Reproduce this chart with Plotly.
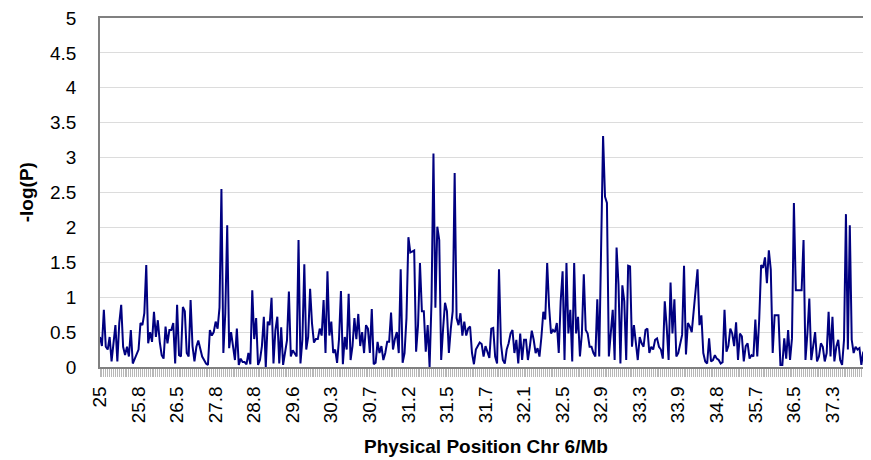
import plotly.graph_objects as go

# -log(P) values, one per marker (index order along chromosome 6)
neg_log_p = [
    # 25.0 - 25.8
    0.43, 0.3, 0.82, 0.29, 0.25, 0.43, 0.08, 0.4, 0.6, 0.08,
    0.63, 0.89, 0.29, 0.17, 0.29, 0.15, 0.53, 0.05, 0.12, 0.2,
    # 25.8 - 26.5
    0.25, 0.63, 0.6, 0.77, 1.46, 0.34, 0.5, 0.36, 0.79, 0.43,
    0.67, 0.36, 0.17, 0.12, 0.58, 0.34, 0.53, 0.53, 0.63, 0.05,
    # 26.5 - 27.8
    0.89, 0.17, 0.15, 0.86, 0.8, 0.2, 0.15, 0.96, 0.3, 0.08,
    0.29, 0.38, 0.25, 0.15, 0.1, 0.05, 0.03, 0.53, 0.45, 0.5,
    # 27.8 - 28.8
    0.65, 0.55, 0.85, 2.55, 0.2, 0.77, 2.03, 0.27, 0.5, 0.3,
    0.1, 0.55, 0.03, 0.12, 0.07, 0.07, 0.04, 0.2, 0.04, 1.1,
    # 28.8 - 29.6
    0.4, 0.7, 0.03, 0.1, 0.3, 0.72, 0.0, 0.65, 0.6, 0.99,
    0.05, 0.53, 0.72, 0.05, 0.57, 0.03, 0.2, 0.38, 1.08, 0.15,
    # 29.6 - 30.3
    0.24, 0.2, 0.15, 1.82, 0.05, 0.39, 1.47, 0.25, 0.43, 1.12,
    0.62, 0.35, 0.4, 0.4, 0.55, 0.45, 0.96, 0.2, 1.37, 0.45,
    # 30.3 - 30.7
    0.65, 0.2, 0.25, 0.06, 0.4, 1.09, 0.04, 0.43, 0.25, 1.05,
    0.1, 0.3, 0.7, 0.4, 0.76, 0.3, 0.5, 0.2, 0.6, 0.55,
    # 30.7 - 31.2
    0.2, 0.83, 0.04, 0.06, 0.36, 0.2, 0.3, 0.1, 0.2, 0.36,
    0.36, 0.78, 0.25, 0.4, 0.5, 0.2, 1.40, 0.06, 0.2, 0.7,
    # 31.2 - 31.5
    1.86, 1.64, 1.65, 1.67, 0.22, 0.6, 1.49, 0.8, 0.8, 0.22,
    0.6, 0.0, 0.95, 3.06, 0.85, 2.01, 1.82, 0.1, 0.55, 0.92,
    # 31.5 - 31.7
    0.8, 0.2, 0.55, 0.8, 2.78, 0.7, 0.6, 0.77, 0.45, 0.65,
    0.45, 0.55, 0.58, 0.2, 0.04, 0.25, 0.3, 0.35, 0.33, 0.15,
    # 31.7 - 32.1
    0.3, 0.2, 0.13, 0.55, 0.56, 0.15, 0.05, 1.40, 0.34, 0.1,
    0.05, 0.25, 0.34, 0.48, 0.53, 0.2, 0.39, 0.05, 0.48, 0.1,
    # 32.1 - 32.5
    0.39, 0.39, 0.1, 0.29, 0.52, 0.39, 0.2, 0.27, 0.15, 0.43,
    0.79, 0.68, 1.49, 0.86, 0.48, 0.53, 0.5, 0.63, 0.2, 0.94,
    # 32.5 - 32.9
    1.37, 0.1, 1.49, 0.48, 0.82, 0.08, 1.49, 0.48, 0.72, 0.15,
    0.48, 1.33, 0.53, 0.48, 0.29, 0.29, 0.2, 0.15, 0.97, 0.15,
    # 32.9 - 33.3
    1.49, 3.31, 2.44, 2.35, 0.15, 0.48, 0.82, 0.1, 1.71, 1.18,
    0.05, 1.17, 0.94, 0.1, 1.45, 1.44, 0.29, 0.6, 0.39, 0.1,
    # 33.3 - 33.9
    0.43, 0.34, 0.29, 0.53, 0.55, 0.2, 0.29, 0.25, 0.39, 0.41,
    0.29, 0.25, 0.12, 0.94, 0.58, 0.1, 1.21, 0.48, 0.97, 0.15,
    # 33.9 - 34.8
    0.2, 0.35, 0.46, 1.45, 0.18, 0.63, 0.58, 0.5, 0.82, 1.06,
    1.40, 0.6, 0.74, 0.2, 0.08, 0.05, 0.41, 0.08, 0.1, 0.17,
    # 34.8 - 35.7
    0.12, 0.1, 0.05, 0.07, 0.82, 0.22, 0.3, 0.55, 0.48, 0.3,
    0.64, 0.1, 0.48, 0.44, 0.08, 0.3, 0.34, 0.12, 0.17, 0.15,
    # 35.7 - 36.5
    0.68, 0.15, 0.68, 1.46, 1.42, 1.57, 1.2, 1.67, 1.4, 0.2,
    0.74, 0.74, 0.74, 0.03, 0.03, 0.41, 0.12, 0.53, 0.1, 0.41,
    # 36.5 - 37.3
    2.35, 1.1, 1.1, 1.1, 1.1, 1.82, 0.1, 0.48, 0.98, 0.1,
    0.29, 0.5, 0.08, 0.15, 0.34, 0.29, 0.08, 0.2, 0.79, 0.15,
    # 37.3 - 38.2
    0.72, 0.08, 0.29, 0.39, 0.1, 0.03, 0.39, 2.19, 0.25, 2.03,
    0.39, 0.2, 0.29, 0.25, 0.27, 0.03, 0.22, 0.1, 0.22, 0.03,
    0.53,
]

# Tick labels (physical position, Mb), one every 20 markers
tick_labels = ["25", "25.8", "26.5", "27.8", "28.8", "29.6", "30.3", "30.7",
               "31.2", "31.5", "31.7", "32.1", "32.5", "32.9", "33.3", "33.9",
               "34.8", "35.7", "36.5", "37.3", "38.2"]
label_step = 20

marker_index = list(range(len(neg_log_p)))
tick_positions = [i * label_step for i in range(len(tick_labels))]

FONT = "Liberation Sans, Arial, sans-serif"

fig = go.Figure()
fig.add_trace(go.Scatter(
    x=marker_index, y=neg_log_p, mode="lines",
    line=dict(color="#000080", width=2),
    hoverinfo="x+y", showlegend=False, cliponaxis=False,
))

# page body has an 8px margin, so the figure is sized/offset to compensate
fig.update_layout(
    width=863, height=452,
    margin=dict(l=92, r=0, t=10, b=93),
    paper_bgcolor="white", plot_bgcolor="white",
    font=dict(family=FONT, size=18, color="black"),
    xaxis=dict(
        range=[0, len(neg_log_p) - 1], automargin=False,
        tickmode="array", tickvals=tick_positions, ticktext=tick_labels,
        tickangle=-90, ticks="outside", ticklen=8, tickcolor="#b8b8b8", tickwidth=1,
        minor=dict(dtick=1, tick0=0, ticks="outside", ticklen=8, tickcolor="#b8b8b8", tickwidth=1),
        ticklabelstandoff=2, ticklabeloverflow="allow",
        showline=True, linecolor="#808080", linewidth=1.5, mirror=True,
        showgrid=False, zeroline=False,
        tickfont=dict(family=FONT, size=19, color="black"),
    ),
    yaxis=dict(
        range=[0, 5], dtick=0.5, tick0=0, automargin=False,
        showline=True, linecolor="#808080", linewidth=1.5,
        showgrid=True, gridcolor="#dcdcdc", gridwidth=1,
        zeroline=False, ticks="", ticklabelstandoff=18, ticklabeloverflow="allow",
        tickfont=dict(family=FONT, size=19, color="black"),
    ),
    annotations=[
        dict(text="<b>-log(P)</b>", xref="paper", yref="paper",
             x=-0.095, y=0.5, textangle=-90, showarrow=False,
             xanchor="center", yanchor="middle",
             font=dict(family=FONT, size=19, color="black")),
        dict(text="<b>Physical Position Chr 6/Mb</b>", xref="paper", yref="paper",
             x=0.501, y=-0.229, showarrow=False,
             xanchor="center", yanchor="middle",
             font=dict(family=FONT, size=19, color="black")),
    ],
)

fig.write_html("out.html")
